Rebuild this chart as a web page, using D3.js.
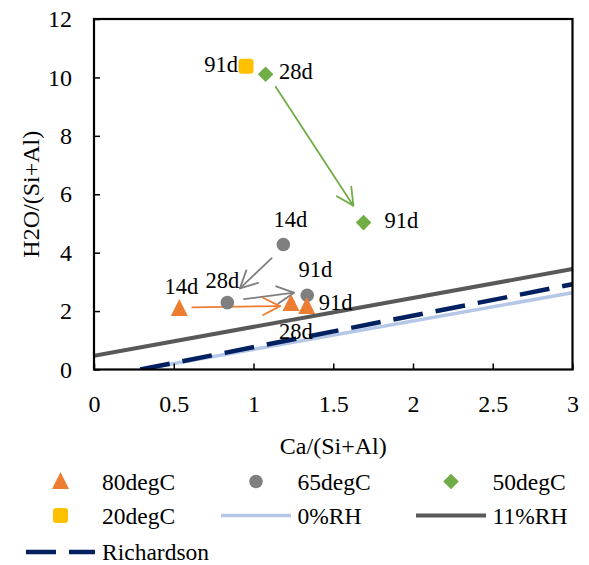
<!DOCTYPE html>
<html>
<head>
<meta charset="utf-8">
<script src="https://cdn.jsdelivr.net/npm/d3@7"></script>
<style>
  html, body { margin: 0; padding: 0; background: #fff; }
  svg { display: block; }
  svg text { font-family: "Liberation Serif", "Times New Roman", Times, serif; fill: #000; }
</style>
</head>
<body>
<svg id="chart" width="589" height="565"></svg>
<script>
// ---------------- data ----------------
const xTicks = [0, 0.5, 1, 1.5, 2, 2.5, 3];
const yTicks = [0, 2, 4, 6, 8, 10, 12];
const xTitle = "Ca/(Si+Al)";
const yTitle = "H2O/(Si+Al)";

const series80 = [
  { age: "14d", x: 0.535, y: 2.12 },
  { age: "28d", x: 1.235, y: 2.29 },
  { age: "91d", x: 1.334, y: 2.19 }
];
const series65 = [
  { age: "14d", x: 1.187, y: 4.28 },
  { age: "28d", x: 0.836, y: 2.29 },
  { age: "91d", x: 1.337, y: 2.54 }
];
const series50 = [
  { age: "28d", x: 1.076, y: 10.11 },
  { age: "91d", x: 1.69, y: 5.03 }
];
const series20 = [
  { age: "91d", x: 0.953, y: 10.38 }
];
const line0RH = [{ x: 0.29, y: 0 }, { x: 3, y: 2.63 }];
const line11RH = [{ x: 0, y: 0.47 }, { x: 3, y: 3.44 }];
const lineRichardson = [{ x: 0.29, y: 0 }, { x: 3, y: 2.92 }];

// arrows: [x1, y1, x2, y2] in data units
const arrowGreen = [1.139, 9.68, 1.626, 5.61];
const arrowGray1 = [1.114, 3.81, 0.915, 2.78];
const arrowGray2 = [0.940, 2.41, 1.254, 2.63];
const arrowOrange = [0.616, 2.13, 1.166, 2.17];

// ---------------- layout / style ----------------
const FONT = '"Liberation Serif", "Times New Roman", Times, serif';
const C = {
  orange: "#ED7D31", gray: "#7F7F7F", green: "#70AD47", yellow: "#FFC000",
  light: "#B4C7E7", dark: "#595959", navy: "#002060"
};
const M = { left: 94, right: 572.5, top: 19, bottom: 369.5 };
const svg = d3.select("#chart").attr("font-family", FONT);

const x = d3.scaleLinear().domain([0, 3]).range([M.left, M.right]);
const y = d3.scaleLinear().domain([0, 12]).range([M.bottom, M.top]);

svg.append("defs").append("clipPath").attr("id", "plotclip")
  .append("rect").attr("x", M.left).attr("y", M.top)
  .attr("width", M.right - M.left).attr("height", M.bottom - M.top);

const plot = svg.append("g").attr("clip-path", "url(#plotclip)");
const lineGen = d3.line().x(d => x(d.x)).y(d => y(d.y));

plot.append("path").datum(line0RH).attr("d", lineGen)
  .attr("fill", "none").attr("stroke", C.light).attr("stroke-width", 3.5);
plot.append("path").datum(lineRichardson).attr("d", lineGen)
  .attr("fill", "none").attr("stroke", C.navy).attr("stroke-width", 4.5)
  .attr("stroke-dasharray", "30,13");
plot.append("path").datum(line11RH).attr("d", lineGen)
  .attr("fill", "none").attr("stroke", C.dark).attr("stroke-width", 4);

// axes
const xAxis = d3.axisBottom(x).tickValues(xTicks).tickSize(-6).tickPadding(0)
  .tickFormat(d3.format("~g"));
const yAxis = d3.axisLeft(y).tickValues(yTicks).tickSize(-6).tickPadding(0)
  .tickFormat(d3.format("~g"));

const gx = svg.append("g").attr("transform", `translate(0,${M.bottom})`).call(xAxis)
  .attr("font-family", FONT).attr("font-size", 24);
gx.select(".domain").remove();
gx.selectAll(".tick line").attr("stroke", "#000").attr("stroke-width", 1.5);
gx.selectAll(".tick text").attr("fill", "#000")
  .attr("dy", null).attr("y", 412 - M.bottom);

const gy = svg.append("g").attr("transform", `translate(${M.left},0)`).call(yAxis)
  .attr("font-family", FONT).attr("font-size", 24);
gy.select(".domain").remove();
gy.selectAll(".tick line").attr("stroke", "#000").attr("stroke-width", 1.5);
gy.selectAll(".tick text").attr("fill", "#000")
  .attr("x", 72 - M.left).attr("dy", "0.32em").attr("text-anchor", "end");

// frame
svg.append("rect").attr("x", M.left).attr("y", M.top)
  .attr("width", M.right - M.left).attr("height", M.bottom - M.top)
  .attr("fill", "none").attr("stroke", "#000").attr("stroke-width", 2.2);

// titles
svg.append("text").attr("x", (M.left + M.right) / 2).attr("y", 454)
  .attr("text-anchor", "middle").attr("font-size", 24).text(xTitle);
svg.append("text").attr("transform", `translate(39,${(M.top + M.bottom) / 2}) rotate(-90)`)
  .attr("text-anchor", "middle").attr("font-size", 24).text(yTitle);

// arrows
function arrow(a, color) {
  const x1 = x(a[0]), y1 = y(a[1]), x2 = x(a[2]), y2 = y(a[3]);
  const ang = Math.atan2(y2 - y1, x2 - x1);
  const L = 19, hw = 27 * Math.PI / 180;
  const b1 = [x2 - L * Math.cos(ang - hw), y2 - L * Math.sin(ang - hw)];
  const b2 = [x2 - L * Math.cos(ang + hw), y2 - L * Math.sin(ang + hw)];
  const g = svg.append("g").attr("stroke", color).attr("fill", "none")
    .attr("stroke-width", 1.8).attr("stroke-linecap", "round").attr("stroke-linejoin", "round");
  g.append("line").attr("x1", x1).attr("y1", y1).attr("x2", x2).attr("y2", y2);
  g.append("path").attr("d", `M${b1[0]},${b1[1]}L${x2},${y2}L${b2[0]},${b2[1]}`);
}
arrow(arrowGreen, C.green);
arrow(arrowGray1, C.gray);
arrow(arrowGray2, C.gray);
arrow(arrowOrange, C.orange);

function triPath(cx, cy, w, h) {
  return `M${cx},${cy - h / 2}L${cx + w / 2},${cy + h / 2}L${cx - w / 2},${cy + h / 2}Z`;
}
function diaPath(cx, cy, r) {
  return `M${cx},${cy - r}L${cx + r},${cy}L${cx},${cy + r}L${cx - r},${cy}Z`;
}

const mk = svg.append("g");
mk.selectAll(".s20").data(series20).join("rect")
  .attr("x", d => x(d.x) - 7.5).attr("y", d => y(d.y) - 7.5)
  .attr("width", 15).attr("height", 15).attr("rx", 3).attr("fill", C.yellow);
mk.selectAll(".s50").data(series50).join("path")
  .attr("d", d => diaPath(x(d.x), y(d.y), 7.8)).attr("fill", C.green);
mk.selectAll(".s65").data(series65).join("circle")
  .attr("cx", d => x(d.x)).attr("cy", d => y(d.y)).attr("r", 6.8).attr("fill", C.gray);
mk.selectAll(".s80").data(series80).join("path")
  .attr("d", d => triPath(x(d.x), y(d.y), 17, 17)).attr("fill", C.orange);

const lblOff = {
  s20: { "91d": [-8, 6, "end"] },
  s50: { "28d": [13.5, 5, "start"], "91d": [21, 5, "start"] },
  s65: { "14d": [7, -17.5, "middle"], "28d": [-5, -14.5, "middle"], "91d": [8, -18.5, "middle"] },
  s80: { "14d": [2, -13.5, "middle"], "28d": [5, 36, "middle"], "91d": [12, 4, "start"] }
};
const lbl = svg.append("g").attr("font-size", 22.5);
[["s20", series20], ["s50", series50], ["s65", series65], ["s80", series80]].forEach(([k, arr]) => {
  arr.forEach(d => {
    const o = lblOff[k][d.age];
    lbl.append("text").attr("x", x(d.x) + o[0]).attr("y", y(d.y) + o[1])
      .attr("text-anchor", o[2]).text(d.age);
  });
});

// legend
const legendItems = [
  { name: "80degC", type: "tri", color: C.orange },
  { name: "65degC", type: "circle", color: C.gray },
  { name: "50degC", type: "diamond", color: C.green },
  { name: "20degC", type: "square", color: C.yellow },
  { name: "0%RH", type: "line", color: C.light },
  { name: "11%RH", type: "line", color: C.dark },
  { name: "Richardson", type: "dash", color: C.navy }
];
const colX = [60.5, 256, 451];
const rowY = [481.5, 515.5, 552];
const lg = svg.append("g");
legendItems.forEach((it, i) => {
  const cx = colX[i % 3], cy = rowY[Math.floor(i / 3)];
  if (it.type === "tri") lg.append("path").attr("d", triPath(cx, cy - 1, 17, 17)).attr("fill", it.color);
  if (it.type === "circle") lg.append("circle").attr("cx", cx).attr("cy", cy).attr("r", 6.8).attr("fill", it.color);
  if (it.type === "diamond") lg.append("path").attr("d", diaPath(cx, cy, 7.8)).attr("fill", it.color);
  if (it.type === "square") lg.append("rect").attr("x", cx - 7.5).attr("y", cy - 7.5)
    .attr("width", 15).attr("height", 15).attr("rx", 3).attr("fill", it.color);
  if (it.type === "line") lg.append("line").attr("x1", cx - 35).attr("x2", cx + 35)
    .attr("y1", cy).attr("y2", cy).attr("stroke", it.color).attr("stroke-width", it.color === C.light ? 3.5 : 4);
  if (it.type === "dash") lg.append("line").attr("x1", cx - 34.5).attr("x2", cx + 34.5)
    .attr("y1", cy).attr("y2", cy).attr("stroke", it.color).attr("stroke-width", 4.5)
    .attr("stroke-dasharray", "30,13");
  lg.append("text").attr("x", cx + 41.5).attr("y", cy + 8.2).attr("font-size", 23.5).text(it.name);
});
</script>
</body>
</html>
